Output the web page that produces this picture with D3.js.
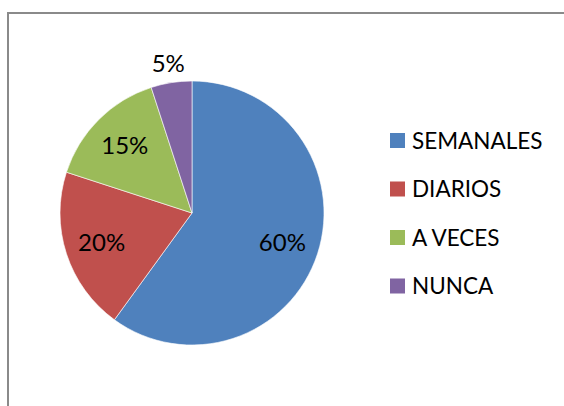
<!DOCTYPE html>
<html>
<head>
<meta charset="utf-8">
<script src="https://cdn.jsdelivr.net/npm/d3@7"></script>
<style>
  body { margin: 0; background: #fff; }
  svg { display: block; }
</style>
</head>
<body>
<svg width="564" height="406"></svg>
<script>
// data
var categories = ['SEMANALES', 'DIARIOS', 'A VECES', 'NUNCA'];
var values = [60, 20, 15, 5];
var colors = ['#4F81BD', '#C0504D', '#9BBB59', '#8064A2'];

var svg = d3.select('svg');
var font = 'Lato, "Open Sans", sans-serif';

// chart frame (right and bottom edges fall outside the picture)
svg.append('rect').attr('x', 8).attr('y', 13).attr('width', 600).attr('height', 450)
  .attr('fill', 'white').attr('stroke', '#8a8a8a').attr('stroke-width', 2);

var cx = 192, cy = 213, r = 132;
var pie = d3.pie().sort(null).value(function(d) { return d; });
var arcs = pie(values);
var arc = d3.arc().innerRadius(0).outerRadius(r);
var color = d3.scaleOrdinal().domain(categories).range(colors);

var g = svg.append('g').attr('transform', 'translate(' + cx + ',' + cy + ')');
g.selectAll('path').data(arcs).enter().append('path')
  .attr('d', arc)
  .attr('fill', function(d, i) { return color(categories[i]); })
  .attr('stroke', 'white').attr('stroke-width', 0.6);

// labels: inside at ~0.72r, small slice outside
g.selectAll('text').data(arcs).enter().append('text')
  .attr('transform', function(d) {
    var a = (d.startAngle + d.endAngle) / 2;
    var k = (d.endAngle - d.startAngle) < 0.5 ? 1.15 : 0.72;
    return 'translate(' + (Math.sin(a) * r * k) + ',' + (-Math.cos(a) * r * k) + ')';
  })
  .attr('text-anchor', 'middle').attr('dy', '0.36em')
  .attr('font-family', font).attr('font-size', 24).attr('fill', '#000')
  .text(function(d) { return d.data + '%'; });

// legend
var legend = svg.append('g').attr('transform', 'translate(390,133)');
var rows = legend.selectAll('g').data(categories).enter().append('g')
  .attr('transform', function(d, i) { return 'translate(0,' + (i * 48.5) + ')'; });
rows.append('rect').attr('width', 15).attr('height', 15)
  .attr('fill', function(d) { return color(d); });
rows.append('text').attr('x', 22).attr('y', 7.5).attr('dy', '0.36em')
  .attr('font-family', font).attr('font-size', 22.5).attr('fill', '#000')
  .text(function(d) { return d; });
</script>
</body>
</html>
